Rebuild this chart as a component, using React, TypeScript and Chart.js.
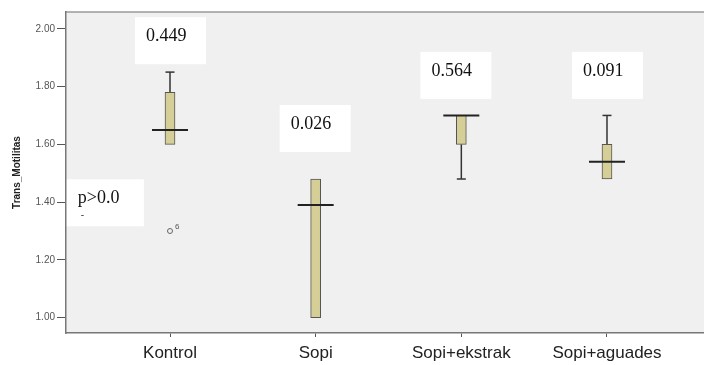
import React, { useEffect, useRef } from "react";
import { Chart, registerables } from "chart.js";

Chart.register(...registerables);

// ---- data ----
const categories = ["Kontrol", "Sopi", "Sopi+ekstrak", "Sopi+aguades"];
const whiskerLow = [1.6, 1.0, 1.48, 1.48];
const q1 = [1.6, 1.0, 1.6, 1.48];
const medians = [1.65, 1.39, 1.7, 1.54];
const q3 = [1.78, 1.48, 1.7, 1.6];
const whiskerHigh = [1.85, 1.48, 1.7, 1.7];
const outlierCategory = [1];
const outlierValues = [1.3];
const outlierLabels = ["6"];
const yTicks = [1.0, 1.2, 1.4, 1.6, 1.8, 2.0];
const pValueLabels = ["0.449", "0.026", "0.564", "0.091"];
const pValueBoxX = [0.76, 1.753, 2.719, 3.76];
const pValueBoxTop = [2.04, 1.736, 1.92, 1.92];
const noteLabel = "p>0.0";
const noteMark = "-";
const noteX = 0.292;
const noteTop = 1.479;
const yTitle = "Trans_Motilitas";

const SANS = "'Liberation Sans', Arial, sans-serif";
const SERIF = "'Liberation Serif', 'Times New Roman', serif";

const extras = {
  id: "boxExtras",
  beforeDraw(chart: any) {
    const { ctx, chartArea: a } = chart;
    ctx.save();
    ctx.fillStyle = "#f0f0f0";
    ctx.fillRect(a.left, a.top, a.right - a.left, a.bottom - a.top);
    ctx.strokeStyle = "#9a9a9a";
    ctx.lineWidth = 1.5;
    ctx.beginPath();
    ctx.moveTo(a.left, a.top);
    ctx.lineTo(a.right, a.top);
    ctx.stroke();
    ctx.restore();
  },
  beforeDatasetsDraw(chart: any) {
    const { ctx } = chart;
    const xs = chart.scales.x;
    const ys = chart.scales.y;
    ctx.save();
    ctx.strokeStyle = "#333";
    ctx.lineWidth = 1.5;
    categories.forEach((_, i) => {
      const x = xs.getPixelForValue(i + 1);
      const segs: [number, number][] = [];
      if (whiskerHigh[i] > q3[i]) segs.push([q3[i], whiskerHigh[i]]);
      if (whiskerLow[i] < q1[i]) segs.push([q1[i], whiskerLow[i]]);
      segs.forEach(([from, to]) => {
        const y0 = ys.getPixelForValue(from);
        const y1 = ys.getPixelForValue(to);
        ctx.beginPath();
        ctx.moveTo(x, y0);
        ctx.lineTo(x, y1);
        ctx.stroke();
        ctx.beginPath();
        ctx.moveTo(x - 4.5, y1);
        ctx.lineTo(x + 4.5, y1);
        ctx.stroke();
      });
    });
    ctx.restore();
  },
  afterDatasetsDraw(chart: any) {
    const { ctx } = chart;
    const xs = chart.scales.x;
    const ys = chart.scales.y;
    ctx.save();
    // medians
    ctx.strokeStyle = "#222";
    ctx.lineWidth = 2;
    categories.forEach((_, i) => {
      const x = xs.getPixelForValue(i + 1);
      const y = ys.getPixelForValue(medians[i]);
      ctx.beginPath();
      ctx.moveTo(x - 18, y);
      ctx.lineTo(x + 18, y);
      ctx.stroke();
    });
    // outlier labels
    ctx.fillStyle = "#555";
    ctx.font = `8px ${SANS}`;
    ctx.textBaseline = "middle";
    ctx.textAlign = "left";
    outlierValues.forEach((v, i) => {
      const x = xs.getPixelForValue(outlierCategory[i]);
      const y = ys.getPixelForValue(v);
      ctx.fillText(outlierLabels[i], x + 5, y - 4);
    });
    // p-value boxes
    const drawBox = (left: number, top: number, w: number, text: string) => {
      ctx.fillStyle = "#ffffff";
      ctx.fillRect(left, top, w, 47);
      ctx.fillStyle = "#111";
      ctx.font = `18px ${SERIF}`;
      ctx.textBaseline = "middle";
      ctx.textAlign = "left";
      ctx.fillText(text, left + 11, top + 19);
    };
    pValueLabels.forEach((t, i) => {
      drawBox(xs.getPixelForValue(pValueBoxX[i]), ys.getPixelForValue(pValueBoxTop[i]), 71, t);
    });
    const nl = xs.getPixelForValue(noteX);
    const nt = ys.getPixelForValue(noteTop);
    drawBox(nl, nt, 77, noteLabel);
    ctx.fillStyle = "#333";
    ctx.font = `10px ${SERIF}`;
    ctx.fillText(noteMark, nl + 14, nt + 36);
    ctx.restore();
  },
};

export default function App() {
  const ref = useRef<HTMLCanvasElement | null>(null);

  useEffect(() => {
    document.body.style.margin = "0";
    const canvas = ref.current;
    if (!canvas) return;
    const chart = new Chart(canvas, {
      type: "bar",
      data: {
        datasets: [
          {
            type: "bar",
            data: categories.map((_, i) => ({ x: i + 1, y: [q1[i], q3[i]] })) as any,
            backgroundColor: "#d5cf97",
            borderColor: "#555",
            borderWidth: 1,
            borderSkipped: false,
            barThickness: 10,
            grouped: false,
          } as any,
          {
            type: "scatter",
            data: outlierValues.map((v, i) => ({ x: outlierCategory[i], y: v })),
            pointRadius: 2.5,
            pointBackgroundColor: "rgba(0,0,0,0)",
            pointBorderColor: "#666",
            pointBorderWidth: 1,
          } as any,
        ],
      },
      options: {
        responsive: false,
        animation: false,
        events: [],
        layout: { autoPadding: false, padding: { top: 12, left: 0, right: 0, bottom: 0 } },
        plugins: { legend: { display: false }, tooltip: { enabled: false } },
        scales: {
          x: {
            type: "linear",
            min: 0.286,
            max: 4.666,
            offset: false,
            afterBuildTicks: (s: any) => {
              s.ticks = categories.map((_, i) => ({ value: i + 1 }));
            },
            afterFit: (s: any) => {
              s.height = 32;
              s.paddingLeft = 0;
              s.paddingRight = 0;
            },
            ticks: {
              callback: (v: any) => categories[Math.round(Number(v)) - 1] ?? "",
              font: { family: SANS, size: 17 },
              color: "#222",
              padding: 6,
              autoSkip: false,
              maxRotation: 0,
            },
            grid: { display: true, drawOnChartArea: false, drawTicks: true, tickLength: 4, color: "#555", offset: false },
            border: { display: true, color: "#777", width: 1.5 },
          },
          y: {
            type: "linear",
            min: 0.947,
            max: 2.058,
            afterBuildTicks: (s: any) => {
              s.ticks = yTicks.map((v) => ({ value: v }));
            },
            afterFit: (s: any) => {
              s.width = 66;
              s.paddingTop = 0;
              s.paddingBottom = 0;
            },
            ticks: {
              callback: (v: any) => Number(v).toFixed(2),
              font: { family: SANS, size: 10 },
              color: "#555",
              padding: 2,
            },
            grid: { display: true, drawOnChartArea: false, drawTicks: true, tickLength: 9, color: "#555" },
            border: { display: true, color: "#777", width: 1.5 },
            title: {
              display: true,
              text: yTitle,
              font: { family: SANS, size: 10, weight: "bold" },
              color: "#222",
              padding: { top: 11, bottom: 0 },
            },
          },
        },
      } as any,
      plugins: [extras],
    });
    return () => chart.destroy();
  }, []);

  return (
    <div style={{ width: 704, height: 365, background: "#fff" }}>
      <canvas ref={ref} width={704} height={365} style={{ display: "block" }} />
    </div>
  );
}
